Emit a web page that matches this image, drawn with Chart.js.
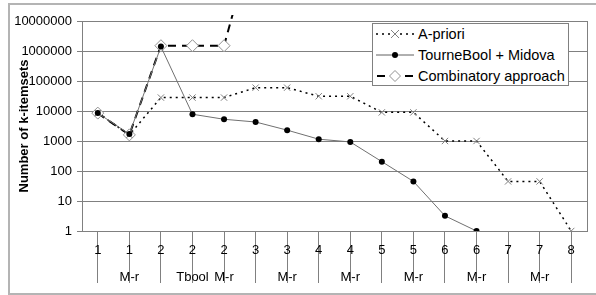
<!DOCTYPE html>
<html>
<head>
<meta charset="utf-8">
<script src="https://cdn.jsdelivr.net/npm/chart.js@4/dist/chart.umd.min.js"></script>
<style>
  body { margin:0; background:#fff; }
  #wrap { position:relative; width:596px; height:295px; overflow:hidden; }
  #frame { position:absolute; left:8px; top:3px; width:640px; height:288px; border:2px solid #b4b4b4; }
  canvas { position:absolute; left:0; top:0; }
  #legend {
    position:absolute; left:372px; top:23px; width:195px; height:61px;
    border:1px solid #808080; background:#fff;
    font-family:"Liberation Sans", Arial, sans-serif; font-size:14.5px; color:#000;
  }
  #legend div { height:21px; line-height:21px; white-space:nowrap; }
  #legend svg { vertical-align:middle; margin:0 3px 2px 2px; }
</style>
</head>
<body>
<div id="wrap">
  <div id="frame"></div>
  <canvas id="chart" width="596" height="295"></canvas>
  <div id="legend">
    <div><svg width="40" height="12"><line x1="1" y1="6" x2="39" y2="6" stroke="#000" stroke-width="1.5" stroke-dasharray="2,4"/><path d="M16 2 L24 10 M24 2 L16 10" stroke="#808080" stroke-width="1"/></svg>A-priori</div>
    <div><svg width="40" height="12"><line x1="1" y1="6" x2="39" y2="6" stroke="#606060" stroke-width="1"/><circle cx="20" cy="6" r="3" fill="#000"/></svg>TourneBool + Midova</div>
    <div><svg width="40" height="12"><line x1="1" y1="6" x2="39" y2="6" stroke="#000" stroke-width="2" stroke-dasharray="8,6" stroke-dashoffset="-1"/><path d="M20 0.5 L25.5 6 L20 11.5 L14.5 6 Z" fill="#fff" stroke="#909090" stroke-width="1"/></svg>Combinatory approach</div>
  </div>
</div>
<script>
const xMain = ["1","1","2","2","2","3","3","4","4","5","5","6","6","7","7","8"]
const xSub  = ["","M-r","","Tbool","M-r","","M-r","","M-r","","M-r","","M-r","","M-r",""]

const apriori    = [8500,1600,28000,28000,28000,60000,60000,31000,31000,9000,9000,1000,1000,45,45,1]
const tournebool = [8500,1700,1400000,7800,5300,4300,2300,1150,930,205,45,3.2,1,null,null,null]
const combinatory = [8500,1600,1500000,1500000,1500000,1e10,null,null,null,null,null,null,null,null,null,null]

const yTicks = [1,10,100,1000,10000,100000,1000000,10000000]

const FONT = "'Liberation Sans', Arial, sans-serif"

new Chart(document.getElementById("chart"), {
  type:"line",
  data:{
    labels: xMain.map((m,i) => [m, xSub[i]]),
    datasets:[
      {
        label:"A-priori",
        data:apriori,
        borderColor:"#000",
        borderWidth:1.5,
        borderDash:[2,4],
        pointStyle:"crossRot",
        pointRadius:4.5,
        pointBorderColor:"#808080",
        pointBorderWidth:1,
        tension:0,
        order:1
      },
      {
        label:"TourneBool + Midova",
        data:tournebool,
        borderColor:"#707070",
        borderWidth:1,
        pointStyle:"circle",
        pointRadius:3,
        pointBackgroundColor:"#000",
        pointBorderColor:"#000",
        pointBorderWidth:0,
        tension:0,
        order:0
      },
      {
        label:"Combinatory approach",
        data:combinatory,
        borderColor:"#000",
        borderWidth:2,
        borderDash:[8,6],
        pointStyle:"rectRot",
        pointRadius:6,
        pointBackgroundColor:"#fff",
        pointBorderColor:"#909090",
        pointBorderWidth:1,
        tension:0,
        clip:{left:0, top:6, right:0, bottom:0},
        order:2
      }
    ]
  },
  options:{
    responsive:false,
    animation:false,
    events:[],
    layout:{ padding:{ left:10, top:21, right:9, bottom:4 } },
    plugins:{
      legend:{ display:false },
      tooltip:{ enabled:false }
    },
    scales:{
      x:{
        type:"category",
        offset:true,
        afterFit: s => { s.height = 60 },
        grid:{
          drawOnChartArea:false,
          drawTicks:true,
          tickLength:52,
          color: ctx => ctx.index === xMain.length ? "rgba(0,0,0,0)" : "#808080",
          lineWidth:1
        },
        border:{ color:"#808080" },
        ticks:{
          autoSkip:false,
          maxRotation:0,
          padding:-46.5,
          color:"#000",
          font:{ family:FONT, size:13, lineHeight:"27px" }
        }
      },
      y:{
        type:"logarithmic",
        min:1,
        max:10000000,
        afterFit: s => { s.width = 72 },
        afterBuildTicks: s => { s.ticks = yTicks.map(v => ({ value:v })) },
        grid:{ color:"#808080", lineWidth:1, tickLength:5 },
        border:{ color:"#808080" },
        ticks:{
          padding:5,
          color:"#000",
          font:{ family:FONT, size:13 },
          callback: v => String(v)
        },
        title:{
          display:true,
          text:"Number of k-itemsets",
          color:"#000",
          padding:{ top:7, bottom:0 },
          font:{ family:FONT, size:13, weight:"bold" }
        }
      },
      y2:{
        type:"linear",
        position:"right",
        afterFit: s => { s.width = 0 },
        grid:{ display:false },
        border:{ color:"#808080" },
        ticks:{ display:false }
      }
    }
  }
})
</script>
</body>
</html>
